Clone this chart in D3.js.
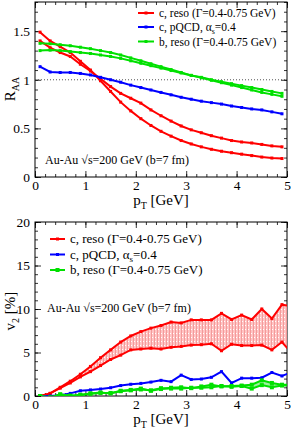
<!DOCTYPE html>
<html>
<head>
<meta charset="utf-8">
<script src="https://cdn.jsdelivr.net/npm/d3@7"></script>
<style>
  body { margin: 0; background: #fff; }
  svg { display: block; font-family: "Liberation Serif", "DejaVu Serif", serif; }
</style>
</head>
<body>
<div id="chart"></div>
<script>
// pT grid (GeV), one point every 0.2 GeV
const ptTop = [0.1,0.3,0.5,0.7,0.9,1.1,1.3,1.5,1.7,1.9,2.1,2.3,2.5,2.7,2.9,3.1,3.3,3.5,3.7,3.9,4.1,4.3,4.5,4.7,4.9];
const ptBot = ptTop.concat([5.1]);

// R_AA
const raaCresoA = [1.49,1.40,1.34,1.28,1.19,1.10,0.99,0.88,0.77,0.68,0.60,0.53,0.47,0.42,0.375,0.34,0.31,0.285,0.265,0.25,0.235,0.22,0.205,0.195,0.19];
const raaCresoB = [1.40,1.33,1.28,1.24,1.16,1.09,1.01,0.93,0.86,0.81,0.76,0.69,0.63,0.575,0.525,0.485,0.455,0.425,0.40,0.375,0.36,0.35,0.335,0.32,0.31];
const raaCpqcd  = [1.135,1.08,1.075,1.075,1.065,1.05,1.025,1.0,0.975,0.945,0.92,0.895,0.87,0.845,0.82,0.80,0.78,0.765,0.75,0.73,0.715,0.70,0.69,0.67,0.65];
const raaBresoA = [1.375,1.37,1.36,1.35,1.335,1.32,1.30,1.28,1.255,1.225,1.195,1.165,1.135,1.105,1.075,1.045,1.02,0.995,0.97,0.945,0.92,0.895,0.87,0.85,0.83];
const raaBresoB = [1.30,1.305,1.30,1.29,1.28,1.27,1.255,1.24,1.22,1.195,1.17,1.145,1.12,1.095,1.07,1.045,1.025,1.0,0.98,0.96,0.94,0.92,0.90,0.88,0.86];

// v2 [%]
const v2CresoHi = [0.0,0.3,1.0,1.7,2.5,3.4,4.4,5.3,6.2,6.9,7.4,7.8,8.1,8.5,8.4,8.75,8.75,8.75,9.5,8.8,9.3,8.8,10.0,8.9,10.5,10.3];
const v2CresoLo = [0.0,0.3,0.9,1.5,2.2,2.8,3.5,4.2,4.7,5.3,5.4,5.5,5.4,5.6,5.7,5.85,5.9,6.0,5.2,5.95,5.8,5.8,5.85,5.3,6.2,4.9];
const v2Cpqcd   = [0.0,0.0,0.1,0.3,0.6,0.7,0.8,0.95,1.2,1.35,1.45,1.6,1.8,1.65,2.4,1.9,1.95,2.15,2.8,1.5,2.05,2.05,2.1,2.7,2.3,2.75];
const v2BresoA  = [0.0,-0.2,0.2,0.0,0.15,0.3,0.4,0.3,0.6,0.7,0.85,0.6,0.8,0.95,1.0,0.9,1.1,1.3,1.1,1.15,1.2,1.3,1.8,1.5,1.3,1.3];
const v2BresoB  = [0.0,-0.15,0.15,0.05,0.1,0.25,0.35,0.35,0.55,0.65,0.75,0.65,0.9,0.85,0.85,0.95,0.95,1.0,1.15,1.05,1.15,0.85,1.25,1.0,1.2,1.2];

const legendLabels = ["c, reso (Γ=0.4-0.75 GeV)", "c, pQCD, α", "b, reso (Γ=0.4-0.75 GeV)"];
const RED = "#ff0000", BLUE = "#0000ff", GREEN = "#00e000";

const W = 291, H = 430;
const svg = d3.select("#chart").append("svg").attr("width", W).attr("height", H);

const defs = svg.append("defs");
const pat = defs.append("pattern").attr("id", "hatch").attr("patternUnits", "userSpaceOnUse")
    .attr("width", 3).attr("height", 4);
pat.append("rect").attr("width", 3).attr("height", 4).attr("fill", "#ffc4c4");
pat.append("rect").attr("x", 1).attr("width", 1).attr("height", 4).attr("fill", "#f49a9a");
pat.append("rect").attr("x", 2).attr("y", 1).attr("width", 1).attr("height", 1).attr("fill", "#ffffff");

function drawPanel(o) {
    const x = d3.scaleLinear().domain([0, 5]).range([35, 287]);
    const y = d3.scaleLinear().domain(o.yDomain).range([o.bottom, o.top]);
    const g = svg.append("g");
    const clipId = "clip" + o.id;
    defs.append("clipPath").attr("id", clipId).append("rect")
        .attr("x", x(0)).attr("y", y(o.yDomain[1]))
        .attr("width", x(5) - x(0)).attr("height", y(o.yDomain[0]) - y(o.yDomain[1]));

    // ticks inward on all four sides
    const xMinor = d3.range(0, 5.001, 0.2), yMinor = d3.range(o.yDomain[0], o.yDomain[1] + 1e-6, o.yMinor);
    const axes = [
        [d3.axisBottom(x).tickValues(xMinor).tickSize(-3), `translate(0,${o.bottom})`],
        [d3.axisTop(x).tickValues(xMinor).tickSize(-3), `translate(0,${o.top})`],
        [d3.axisLeft(y).tickValues(yMinor).tickSize(-3), `translate(35,0)`],
        [d3.axisRight(y).tickValues(yMinor).tickSize(-3), `translate(287,0)`],
        [d3.axisTop(x).ticks(5).tickSize(-6), `translate(0,${o.top})`],
        [d3.axisRight(y).tickValues(o.yMajor).tickSize(-6), `translate(287,0)`]
    ];
    axes.forEach(function (a) {
        const ax = g.append("g").attr("transform", a[1]).call(a[0].tickFormat(""));
        ax.select(".domain").remove();
        ax.selectAll("line").attr("stroke", "#000").attr("stroke-width", 0.8);
    });
    const xb = g.append("g").attr("transform", `translate(0,${o.bottom})`)
        .call(d3.axisBottom(x).ticks(5).tickSize(-6).tickPadding(3).tickFormat(d3.format("d")));
    const yl = g.append("g").attr("transform", "translate(35,0)")
        .call(d3.axisLeft(y).tickValues(o.yMajor).tickSize(-6).tickPadding(5).tickFormat(o.fmt));
    [xb, yl].forEach(function (ax) {
        ax.select(".domain").remove();
        ax.selectAll("line").attr("stroke", "#000").attr("stroke-width", 0.8);
        ax.selectAll("text").attr("font-family", "Liberation Serif").attr("font-size", 13.5).attr("fill", "#000");
    });

    g.append("rect").attr("x", x(0)).attr("y", o.top).attr("width", x(5) - x(0))
        .attr("height", o.bottom - o.top).attr("fill", "none").attr("stroke", "#000").attr("stroke-width", 1);

    const plot = g.append("g").attr("clip-path", `url(#${clipId})`);

    if (o.refLine != null) {
        plot.append("line").attr("x1", x(0)).attr("x2", x(5))
            .attr("y1", y(o.refLine)).attr("y2", y(o.refLine))
            .attr("stroke", "#555").attr("stroke-dasharray", "1,2").attr("stroke-width", 1);
    }

    (o.bands || []).forEach(function (b) {
        const area = d3.area().x((d, i) => x(o.pt[i])).y0((d, i) => y(b.lo[i])).y1((d, i) => y(b.hi[i]));
        plot.append("path").attr("d", area(b.hi)).attr("fill", b.fill).attr("stroke", "none");
    });

    const line = d3.line().x(d => x(d[0])).y(d => y(d[1]));
    o.series.forEach(function (s) {
        const pts = o.pt.map((p, i) => [p, s.values[i]]);
        plot.append("path").attr("d", line(pts)).attr("fill", "none")
            .attr("stroke", s.color).attr("stroke-width", 2);
        plot.selectAll(null).data(pts).enter().append("rect")
            .attr("x", d => x(d[0]) - s.ms / 2).attr("y", d => y(d[1]) - s.ms / 2)
            .attr("width", s.ms).attr("height", s.ms).attr("fill", s.color);
    });

    // legend
    const lg = g.append("g").attr("font-size", o.legendSize);
    o.legend.forEach(function (l, i) {
        const yy = o.legendY[i];
        lg.append("line").attr("x1", o.legendX).attr("x2", o.legendX + o.legendLen)
            .attr("y1", yy).attr("y2", yy).attr("stroke", l.color).attr("stroke-width", 2);
        lg.append("rect").attr("x", o.legendX + o.legendLen / 2 - l.ms / 2).attr("y", yy - l.ms / 2)
            .attr("width", l.ms).attr("height", l.ms).attr("fill", l.color);
        const t = lg.append("text").attr("x", o.legendX + o.legendLen + 5).attr("y", yy + 4);
        if (i === 1) {
            t.append("tspan").text(legendLabels[1]);
            t.append("tspan").attr("dy", 3).attr("font-size", o.legendSize * 0.7).text("s");
            t.append("tspan").attr("dy", -3).text("=0.4");
        } else {
            t.text(legendLabels[i]);
        }
    });

    g.append("text").attr("x", o.noteX).attr("y", o.noteY).attr("font-size", o.noteSize)
        .text("Au-Au √s=200 GeV (b=7 fm)");

    // axis titles
    const xt = g.append("text").attr("x", 161).attr("y", o.bottom + 27.5).attr("text-anchor", "middle")
        .attr("font-size", 15);
    xt.append("tspan").text("p");
    xt.append("tspan").attr("dy", 4).attr("font-size", 10).text("T");
    xt.append("tspan").attr("dy", -4).text(" [GeV]");

    const yt = g.append("text").attr("transform", `translate(15,${o.yTitleY}) rotate(-90)`)
        .attr("text-anchor", "middle").attr("font-size", 15);
    yt.append("tspan").text(o.yTitle[0]);
    yt.append("tspan").attr("dy", 4).attr("font-size", 10).text(o.yTitle[1]);
    yt.append("tspan").attr("dy", -4).text(o.yTitle[2]);
}

drawPanel({
    id: "top", top: 2, bottom: 177, yDomain: [0, 1.8], yMajor: [0, 0.5, 1, 1.5], yMinor: 0.1,
    fmt: d => (d === 0 ? "0" : d === 1 ? "1" : d3.format(".1f")(d)), refLine: 1, pt: ptTop,
    series: [
        {values: raaCresoA, color: RED, ms: 3},
        {values: raaCresoB, color: RED, ms: 3},
        {values: raaCpqcd, color: BLUE, ms: 3},
        {values: raaBresoA, color: GREEN, ms: 3},
        {values: raaBresoB, color: GREEN, ms: 3}
    ],
    legend: [{color: RED, ms: 3}, {color: BLUE, ms: 3}, {color: GREEN, ms: 3}],
    legendX: 138, legendLen: 16, legendY: [13, 27, 41.5], legendSize: 11.5,
    noteX: 45, noteY: 164, noteSize: 12,
    yTitle: ["R", "AA", ""], yTitleY: 89
});

drawPanel({
    id: "bot", top: 222, bottom: 396, yDomain: [0, 20], yMajor: [0, 5, 10, 15, 20], yMinor: 1,
    fmt: d3.format("d"), refLine: null, pt: ptBot,
    bands: [
        {lo: v2CresoLo, hi: v2CresoHi, fill: "url(#hatch)"},
        {lo: v2BresoB, hi: v2BresoA, fill: "#9cf09c"}
    ],
    series: [
        {values: v2CresoHi, color: RED, ms: 3},
        {values: v2CresoLo, color: RED, ms: 3},
        {values: v2Cpqcd, color: BLUE, ms: 3},
        {values: v2BresoA, color: GREEN, ms: 4},
        {values: v2BresoB, color: GREEN, ms: 4}
    ],
    legend: [{color: RED, ms: 3}, {color: BLUE, ms: 3}, {color: GREEN, ms: 4}],
    legendX: 50, legendLen: 15, legendY: [239, 254.5, 270], legendSize: 13,
    noteX: 47, noteY: 312, noteSize: 12,
    yTitle: ["v", "2", " [%]"], yTitleY: 311
});
</script>
</body>
</html>
